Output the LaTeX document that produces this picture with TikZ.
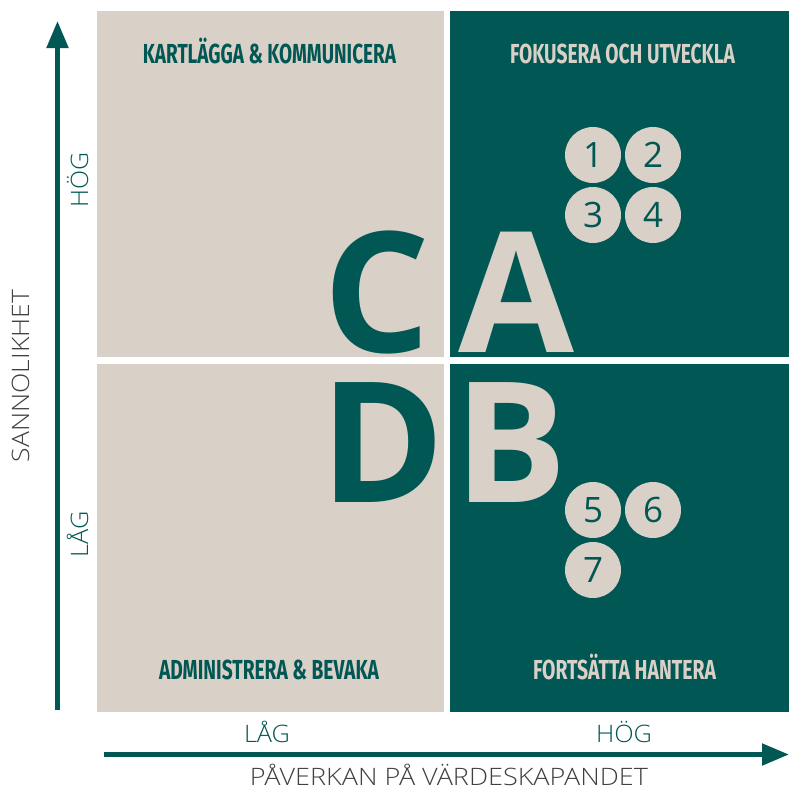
\documentclass[tikz,border=0pt]{standalone}
\usepackage{fontspec}
\setmainfont{Open Sans}
\newfontfamily\ttlfont{Fira Sans}
\newfontfamily\lightfont{Open Sans Light}
\usetikzlibrary{arrows.meta}
\definecolor{teal}{RGB}{0,87,83}
\definecolor{beige}{RGB}{217,208,199}
\definecolor{txtgray}{RGB}{64,64,64}
\newcommand\fitw[2]{\resizebox{#1}{\height}{#2}}
\begin{document}
\begin{tikzpicture}[x=1pt,y=-1pt,
  ttl/.style={inner sep=0,anchor=base,font=\ttlfont\bfseries\fontsize{27.5}{27.5}\selectfont},
  bigletter/.style={inner sep=0,anchor=base,font=\bfseries\fontsize{168}{168}\selectfont},
  num/.style={circle,fill=beige,text=teal,minimum size=56pt,inner sep=0,font=\fontsize{35}{35}\selectfont},
  axlbl/.style={inner sep=0,anchor=base,text=teal,font=\lightfont\fontsize{24}{24}\selectfont},
  axtitle/.style={inner sep=0,anchor=base,text=txtgray,font=\lightfont\fontsize{24}{24}\selectfont},
  axarrow/.style={draw=teal,line width=5pt,-{Triangle[length=27pt,width=21pt]}}]
\useasboundingbox (0,0) rectangle (789,787);
\fill[white] (0,0) rectangle (789,787);
% quadrants
\fill[beige] (97,11) rectangle (444,357);
\fill[teal] (450,11) rectangle (789,357);
\fill[beige] (97,364) rectangle (444,712);
\fill[teal] (450,364) rectangle (789,712);
% titles
\node[ttl,text=teal] (tC) at (269.5,63) {\fitw{253pt}{KARTLÄGGA \& KOMMUNICERA}};
\node[ttl,text=beige] (tA) at (622.5,63) {\fitw{225pt}{FOKUSERA OCH UTVECKLA}};
\node[ttl,text=teal] (tD) at (269,679) {\fitw{220pt}{ADMINISTRERA \& BEVAKA}};
\node[ttl,text=beige] (tB) at (624.5,679) {\fitw{183pt}{FORTSÄTTA HANTERA}};
% big letters
\node[bigletter,text=teal] (C) at (377,352) {C};
\node[bigletter,text=beige] (A) at (516,352) {A};
\node[bigletter,text=teal] (D) at (383,502) {D};
\node[bigletter,text=beige] (B) at (511,502) {B};
% numbered circles
\node[num] (n1) at (593,155) {1};
\node[num] (n2) at (653,155) {2};
\node[num] (n3) at (593,215) {3};
\node[num] (n4) at (653,215) {4};
\node[num] (n5) at (593,510) {5};
\node[num] (n6) at (653,510) {6};
\node[num] (n7) at (593,570) {7};
% axes
\coordinate (ybot) at (57.5,710);
\coordinate (ytop) at (57.5,21);
\coordinate (xleft) at (104,754.5);
\coordinate (xright) at (789,754.5);
\draw[axarrow] (ybot) -- (ytop);
\draw[axarrow] (xleft) -- (xright);
% axis labels
\node[axlbl,rotate=90] (yhi) at (88,180) {\fitw{55pt}{HÖG}};
\node[axlbl,rotate=90] (ylo) at (88,534) {\fitw{46pt}{LÅG}};
\node[axtitle,rotate=90] (ytitle) at (29,376) {\fitw{172pt}{SANNOLIKHET}};
\node[axlbl] (xlo) at (267,742.5) {\fitw{46pt}{LÅG}};
\node[axlbl] (xhi) at (624,742.5) {\fitw{56pt}{HÖG}};
\node[axtitle] (xtitle) at (449,785) {\fitw{398pt}{PÅVERKAN PÅ VÄRDESKAPANDET}};
\end{tikzpicture}
\end{document}
